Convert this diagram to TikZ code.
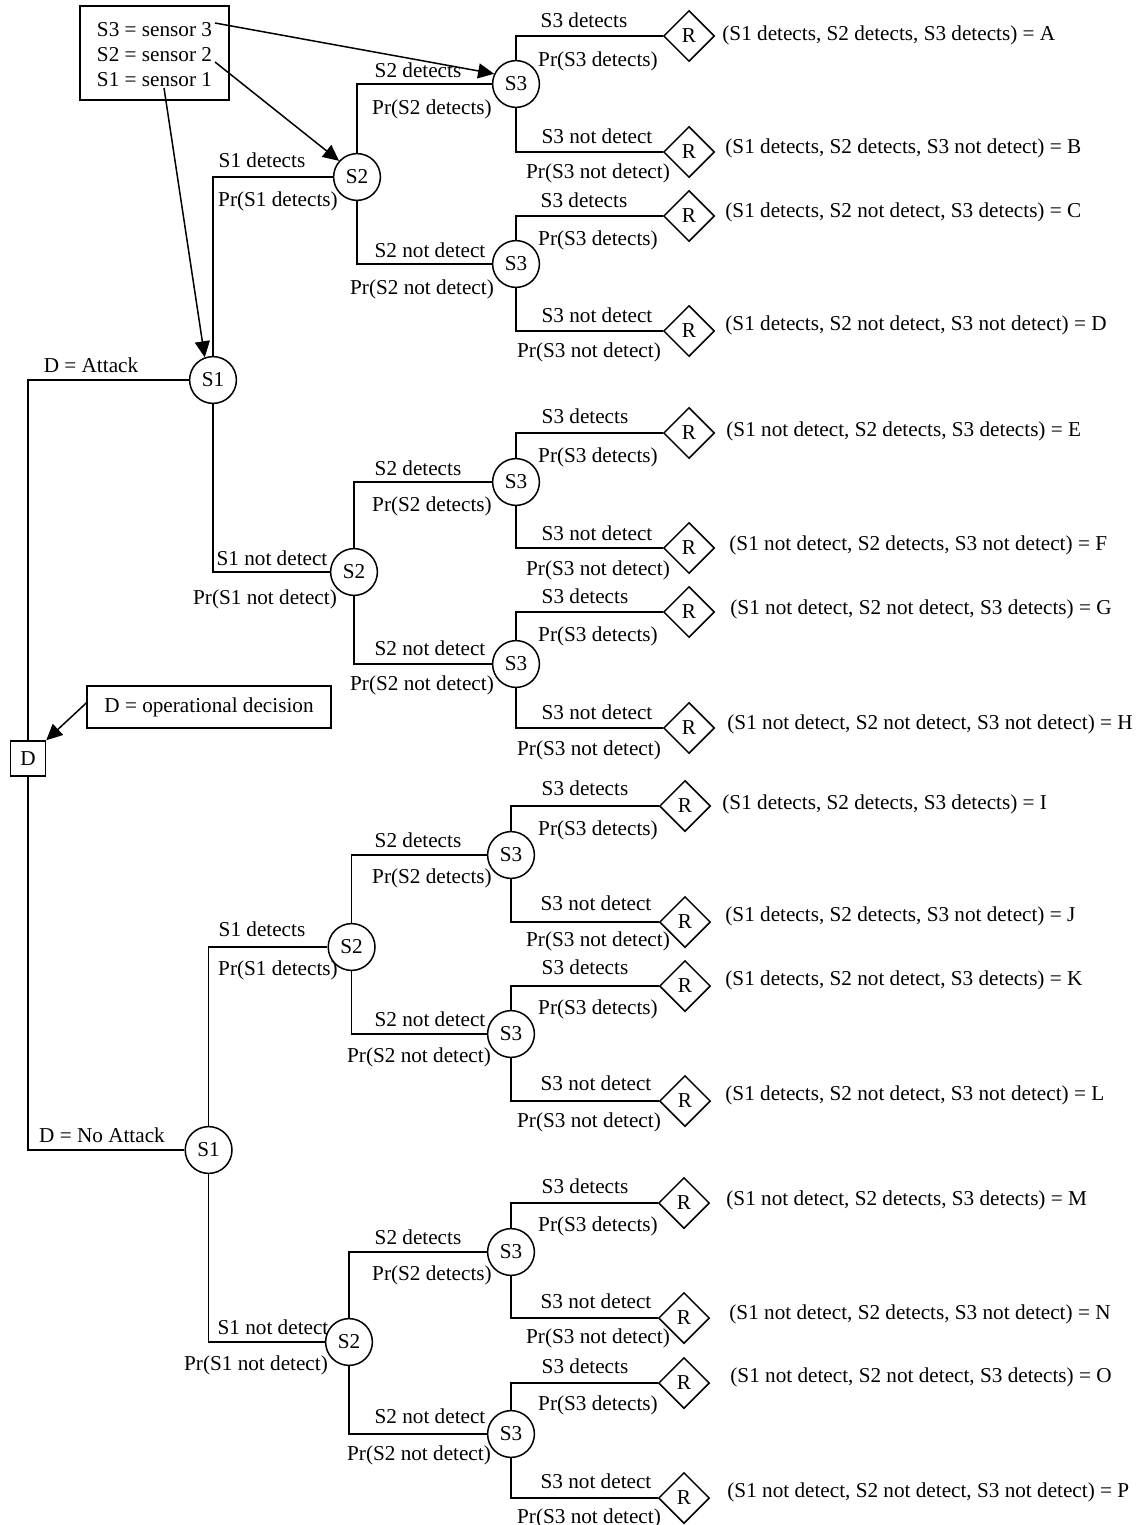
\documentclass[tikz,border=0pt]{standalone}
\usepackage{fontspec}
\setmainfont{Liberation Serif}
\usetikzlibrary{shapes.geometric,arrows.meta}
\begin{document}
\begin{tikzpicture}[x=0.5pt,y=-0.5pt,
  every node/.style={font=\fontsize{10.6}{12.5}\selectfont},
  chance/.style={circle,draw,line width=0.75pt,minimum size=23.4pt,inner sep=0pt},
  res/.style={diamond,draw,line width=0.75pt,minimum width=25.5pt,minimum height=25.5pt,inner sep=0pt},
  decbox/.style={draw,line width=0.75pt,inner sep=0pt},
  lb/.style={anchor=base,inner sep=0pt,yshift=-3.6pt},
  outc/.style={anchor=base west,inner sep=0pt,yshift=-3.6pt},
  br/.style={line width=0.75pt},
  arr/.style={line width=0.75pt,-{Triangle[length=8pt,width=7.5pt]}},
]
\useasboundingbox (0,0) rectangle (1147,1525);

% ---------- legend and decision ----------
\node[decbox,minimum width=74.5pt,minimum height=47pt] (leg) at (154.5,53) {};
\node[align=left,inner sep=0pt] (legt) at (154.5,55) {S3 = sensor 3\\S2 = sensor 2\\S1 = sensor 1};
\coordinate (l3) at (215,23);
\coordinate (l2) at (215,62);
\coordinate (l1) at (164,88);
\node[decbox,minimum width=122pt,minimum height=21pt] (op) at (209,707) {D = operational decision};
\node[decbox,minimum size=17.5pt] (D) at (28,758.5) {D};

% ---------- chance nodes ----------
\node[chance] (S1a) at (213,380) {S1};
\node[chance] (S2a) at (357,177) {S2};
\node[chance] (S2b) at (354,572) {S2};
\node[chance] (S3aa) at (516,84) {S3};
\node[chance] (S3ab) at (516,264) {S3};
\node[chance] (S3ba) at (516,482) {S3};
\node[chance] (S3bb) at (516,664) {S3};

\node[chance] (S1b) at (208.6,1150) {S1};
\node[chance] (S2c) at (351.6,947) {S2};
\node[chance] (S2d) at (349,1342) {S2};
\node[chance] (S3ca) at (511,855) {S3};
\node[chance] (S3cb) at (511,1034) {S3};
\node[chance] (S3da) at (511,1252) {S3};
\node[chance] (S3db) at (511,1434) {S3};

% ---------- result nodes ----------
\node[res] (RA) at (689,36) {R};
\node[res] (RB) at (689,152) {R};
\node[res] (RC) at (689,216) {R};
\node[res] (RD) at (689,331) {R};
\node[res] (RE) at (689,433) {R};
\node[res] (RF) at (689,548) {R};
\node[res] (RG) at (689,612) {R};
\node[res] (RH) at (689,728) {R};
\node[res] (RI) at (685,806) {R};
\node[res] (RJ) at (685,922) {R};
\node[res] (RK) at (685,986) {R};
\node[res] (RL) at (685,1101) {R};
\node[res] (RM) at (684,1203) {R};
\node[res] (RN) at (684,1318) {R};
\node[res] (RO) at (684,1383) {R};
\node[res] (RP) at (684,1498) {R};

% ---------- branches ----------
\draw[br] (D.north) |- (S1a.west);
\draw[br] (D.south) |- (S1b.west);
\draw[br] (S1a.north) |- (S2a.west);
\draw[br] (S1a.south) |- (S2b.west);
\draw[br] (S1b.north) |- (S2c.west);
\draw[br] (S1b.south) |- (S2d.west);
\draw[br] (S2a.north) |- (S3aa.west);
\draw[br] (S2a.south) |- (S3ab.west);
\draw[br] (S2b.north) |- (S3ba.west);
\draw[br] (S2b.south) |- (S3bb.west);
\draw[br] (S2c.north) |- (S3ca.west);
\draw[br] (S2c.south) |- (S3cb.west);
\draw[br] (S2d.north) |- (S3da.west);
\draw[br] (S2d.south) |- (S3db.west);
\draw[br] (S3aa.north) |- (RA.west);
\draw[br] (S3aa.south) |- (RB.west);
\draw[br] (S3ab.north) |- (RC.west);
\draw[br] (S3ab.south) |- (RD.west);
\draw[br] (S3ba.north) |- (RE.west);
\draw[br] (S3ba.south) |- (RF.west);
\draw[br] (S3bb.north) |- (RG.west);
\draw[br] (S3bb.south) |- (RH.west);
\draw[br] (S3ca.north) |- (RI.west);
\draw[br] (S3ca.south) |- (RJ.west);
\draw[br] (S3cb.north) |- (RK.west);
\draw[br] (S3cb.south) |- (RL.west);
\draw[br] (S3da.north) |- (RM.west);
\draw[br] (S3da.south) |- (RN.west);
\draw[br] (S3db.north) |- (RO.west);
\draw[br] (S3db.south) |- (RP.west);

% ---------- arrows ----------
\draw[arr] (l3) -- (S3aa.155);
\draw[arr] (l2) -- (S2a.138);
\draw[arr] (l1) -- (S1a.110);
\draw[arr] ([yshift=2pt]op.west) -- (D.north east);

% ---------- branch labels: attack ----------
\node[lb] (tAtt) at (91,365) {D = Attack};
\node[lb] (t1) at (262,160) {S1 detects};
\node[lb] (t2) at (278,199) {Pr(S1 detects)};
\node[lb] (t3) at (272,558) {S1 not detect};
\node[lb] (t4) at (265,597) {Pr(S1 not detect)};

\node[lb] (t5) at (418,70) {S2 detects};
\node[lb] (t6) at (432,107) {Pr(S2 detects)};
\node[lb] (t7) at (430,250) {S2 not detect};
\node[lb] (t8) at (422,287) {Pr(S2 not detect)};
\node[lb] (t9) at (418,468) {S2 detects};
\node[lb] (t10) at (432,504) {Pr(S2 detects)};
\node[lb] (t11) at (430,648) {S2 not detect};
\node[lb] (t12) at (422,683) {Pr(S2 not detect)};

\node[lb] (t13) at (584,20) {S3 detects};
\node[lb] (t14) at (598,59) {Pr(S3 detects)};
\node[lb] (t15) at (597,136) {S3 not detect};
\node[lb] (t16) at (598,171) {Pr(S3 not detect)};
\node[lb] (t17) at (584,200) {S3 detects};
\node[lb] (t18) at (598,238) {Pr(S3 detects)};
\node[lb] (t19) at (597,315) {S3 not detect};
\node[lb] (t20) at (589,350) {Pr(S3 not detect)};
\node[lb] (t21) at (585,416) {S3 detects};
\node[lb] (t22) at (598,455) {Pr(S3 detects)};
\node[lb] (t23) at (597,533) {S3 not detect};
\node[lb] (t24) at (598,568) {Pr(S3 not detect)};
\node[lb] (t25) at (585,596) {S3 detects};
\node[lb] (t26) at (598,634) {Pr(S3 detects)};
\node[lb] (t27) at (597,712) {S3 not detect};
\node[lb] (t28) at (589,748) {Pr(S3 not detect)};

% ---------- branch labels: no attack ----------
\node[lb] (tNo) at (102,1135) {D = No Attack};
\node[lb] (u1) at (262,929) {S1 detects};
\node[lb] (u2) at (278,968) {Pr(S1 detects)};
\node[lb] (u3) at (273,1327) {S1 not detect};
\node[lb] (u4) at (256,1363) {Pr(S1 not detect)};

\node[lb] (u5) at (418,840) {S2 detects};
\node[lb] (u6) at (432,876) {Pr(S2 detects)};
\node[lb] (u7) at (430,1019) {S2 not detect};
\node[lb] (u8) at (419,1055) {Pr(S2 not detect)};
\node[lb] (u9) at (418,1237) {S2 detects};
\node[lb] (u10) at (432,1273) {Pr(S2 detects)};
\node[lb] (u11) at (430,1416) {S2 not detect};
\node[lb] (u12) at (419,1453) {Pr(S2 not detect)};

\node[lb] (u13) at (585,788) {S3 detects};
\node[lb] (u14) at (598,828) {Pr(S3 detects)};
\node[lb] (u15) at (596,903) {S3 not detect};
\node[lb] (u16) at (598,939) {Pr(S3 not detect)};
\node[lb] (u17) at (585,967) {S3 detects};
\node[lb] (u18) at (598,1007) {Pr(S3 detects)};
\node[lb] (u19) at (596,1083) {S3 not detect};
\node[lb] (u20) at (589,1120) {Pr(S3 not detect)};
\node[lb] (u21) at (585,1186) {S3 detects};
\node[lb] (u22) at (598,1224) {Pr(S3 detects)};
\node[lb] (u23) at (596,1301) {S3 not detect};
\node[lb] (u24) at (598,1336) {Pr(S3 not detect)};
\node[lb] (u25) at (585,1366) {S3 detects};
\node[lb] (u26) at (598,1403) {Pr(S3 detects)};
\node[lb] (u27) at (596,1481) {S3 not detect};
\node[lb] (u28) at (589,1516) {Pr(S3 not detect)};

% ---------- outcomes ----------
\node[outc] (oA) at (722,33) {(S1 detects, S2 detects, S3 detects) = A};
\node[outc] (oB) at (725,146) {(S1 detects, S2 detects, S3 not detect) = B};
\node[outc] (oC) at (725,210) {(S1 detects, S2 not detect, S3 detects) = C};
\node[outc] (oD) at (725,323) {(S1 detects, S2 not detect, S3 not detect) = D};
\node[outc] (oE) at (726,429) {(S1 not detect, S2 detects, S3 detects) = E};
\node[outc] (oF) at (729,543) {(S1 not detect, S2 detects, S3 not detect) = F};
\node[outc] (oG) at (730,607) {(S1 not detect, S2 not detect, S3 detects) = G};
\node[outc] (oH) at (727,722) {(S1 not detect, S2 not detect, S3 not detect) = H};
\node[outc] (oI) at (722,802) {(S1 detects, S2 detects, S3 detects) = I};
\node[outc] (oJ) at (725,914) {(S1 detects, S2 detects, S3 not detect) = J};
\node[outc] (oK) at (725,978) {(S1 detects, S2 not detect, S3 detects) = K};
\node[outc] (oL) at (725,1093) {(S1 detects, S2 not detect, S3 not detect) = L};
\node[outc] (oM) at (726,1198) {(S1 not detect, S2 detects, S3 detects) = M};
\node[outc] (oN) at (729,1312) {(S1 not detect, S2 detects, S3 not detect) = N};
\node[outc] (oO) at (730,1375) {(S1 not detect, S2 not detect, S3 detects) = O};
\node[outc] (oP) at (727,1490) {(S1 not detect, S2 not detect, S3 not detect) = P};
\end{tikzpicture}
\end{document}
